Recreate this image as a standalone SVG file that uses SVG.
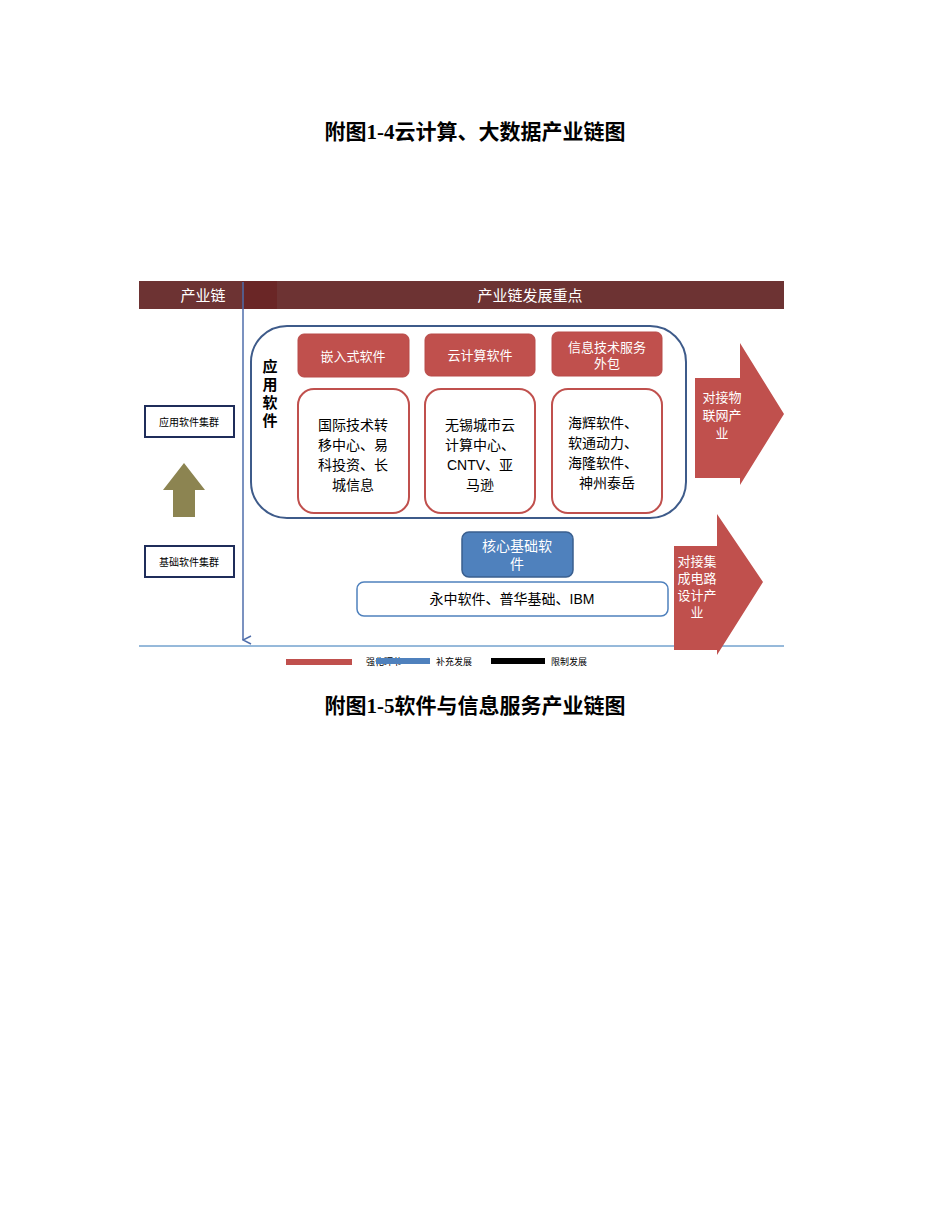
<svg xmlns="http://www.w3.org/2000/svg" width="950" height="1230" viewBox="0 0 950 1230">
<style>
.t{font-family:"Liberation Serif","Noto Sans CJK SC",serif;font-weight:bold;font-size:21px;text-anchor:middle}
.s{font-family:"Liberation Sans","Noto Sans CJK SC",sans-serif;text-anchor:middle}
.w{fill:#fff}
.red{fill:#c0504d;stroke:#b84a48}
.rw{fill:#fff;stroke:#c0504d;stroke-width:2}
</style>
<defs><marker id="ah" markerWidth="10" markerHeight="10" refX="5" refY="9" orient="auto" markerUnits="userSpaceOnUse"><path d="M1,1 L5,9 L9,1" fill="none" stroke="#4f6eab" stroke-width="1.5"/></marker></defs>
<rect width="950" height="1230" fill="#fff"/>
<text class="t" x="475" y="139">附图1-4云计算、大数据产业链图</text>
<text class="t" x="475" y="713">附图1-5软件与信息服务产业链图</text>
<g id="header">
<rect x="139" y="281" width="645" height="28" fill="#6d3333"/>
<rect x="242" y="281" width="35" height="28" fill="#6a2626"/>
<text class="s w" x="203" y="301" font-size="15">产业链</text>
<text class="s w" x="530" y="301" font-size="15">产业链发展重点</text>
</g>
<g id="connectors">
<line x1="243" y1="282" x2="243" y2="640" stroke="#4f6eab" stroke-width="1.5" marker-end="url(#ah)"/>
<line x1="139" y1="646" x2="784" y2="646" stroke="#2e75b6" stroke-width="1"/>
</g>
<g id="app">
<rect x="251" y="326" width="435" height="192" rx="36" fill="none" stroke="#3e5b8a" stroke-width="2"/>
<text class="s" font-size="15" font-weight="bold" x="270" y="372">应</text>
<text class="s" font-size="15" font-weight="bold" x="270" y="390">用</text>
<text class="s" font-size="15" font-weight="bold" x="270" y="408">软</text>
<text class="s" font-size="15" font-weight="bold" x="270" y="426">件</text>
</g>
<g id="n1"><rect class="red" x="298" y="334" width="111" height="43" rx="6"/><text class="s w" x="353" y="361" font-size="13">嵌入式软件</text></g>
<g id="n2"><rect class="red" x="425" y="334" width="110" height="42" rx="6"/><text class="s w" x="480" y="360" font-size="13">云计算软件</text></g>
<g id="n3"><rect class="red" x="552" y="332" width="110" height="44" rx="6"/><text class="s w" x="607" y="352" font-size="13">信息技术服务</text><text class="s w" x="607" y="368" font-size="13">外包</text></g>
<g id="n4" font-size="14"><rect class="rw" x="298" y="389" width="111" height="124" rx="16"/>
<text class="s" x="353" y="430">国际技术转</text><text class="s" x="353" y="450">移中心、易</text><text class="s" x="353" y="470">科投资、长</text><text class="s" x="353" y="490">城信息</text></g>
<g id="n5" font-size="14"><rect class="rw" x="425" y="389" width="110" height="124" rx="16"/>
<text class="s" x="480" y="430">无锡城市云</text><text class="s" x="480" y="450">计算中心、</text><text class="s" x="480" y="470">CNTV、亚</text><text class="s" x="480" y="490">马逊</text></g>
<g id="n6" font-size="14"><rect class="rw" x="552" y="389" width="110" height="124" rx="16"/>
<text class="s" x="603" y="428">海辉软件、</text><text class="s" x="603" y="448">软通动力、</text><text class="s" x="603" y="468">海隆软件、</text><text class="s" x="607" y="488">神州泰岳</text></g>
<g id="arrow1"><path d="M695,378 H740 V343 L784,414 L740,485 V478 H695 Z" fill="#c0504d"/>
<text class="s w" x="722" y="402" font-size="13">对接物</text><text class="s w" x="722" y="420" font-size="13">联网产</text><text class="s w" x="722" y="438" font-size="13">业</text></g>
<g id="arrow2"><path d="M674,546 H717 V514 L763,582 L717,655 V650 H674 Z" fill="#c0504d"/>
<text class="s w" x="697" y="566" font-size="13">对接集</text><text class="s w" x="697" y="583" font-size="13">成电路</text><text class="s w" x="697" y="600" font-size="13">设计产</text><text class="s w" x="697" y="617" font-size="13">业</text></g>
<g id="core"><rect x="462" y="532" width="111" height="45" rx="7" fill="#4f81bd" stroke="#3a5f8f" stroke-width="1.5"/>
<text class="s w" x="517" y="551" font-size="14">核心基础软</text><text class="s w" x="517" y="569" font-size="14">件</text></g>
<g id="corelist"><rect x="357" y="582" width="311" height="34" rx="7" fill="#fff" stroke="#4f81bd" stroke-width="1.5"/>
<text class="s" x="512" y="604" font-size="14">永中软件、普华基础、IBM</text></g>
<g id="appcluster"><rect x="145" y="406" width="89" height="31" fill="#fff" stroke="#1f2d5a" stroke-width="2"/><text class="s" x="189" y="426" font-size="10">应用软件集群</text></g>
<g id="basecluster"><rect x="145" y="546" width="89" height="31" fill="#fff" stroke="#1f2d5a" stroke-width="2"/><text class="s" x="189" y="566" font-size="10">基础软件集群</text></g>
<g id="uparrow"><path d="M173,517 V490 H163 L184,463 L205,490 H195 V517 Z" fill="#8c8451"/></g>
<g id="legend" font-size="9">
<rect x="286" y="659" width="66" height="6" fill="#c0504d"/><text class="s" x="384" y="665">强化环节</text>
<rect x="376" y="658" width="54" height="6" fill="#4f81bd"/><text class="s" x="454" y="665">补充发展</text>
<rect x="491" y="658" width="54" height="6" fill="#000"/><text class="s" x="569" y="665">限制发展</text>
</g>
</svg>
